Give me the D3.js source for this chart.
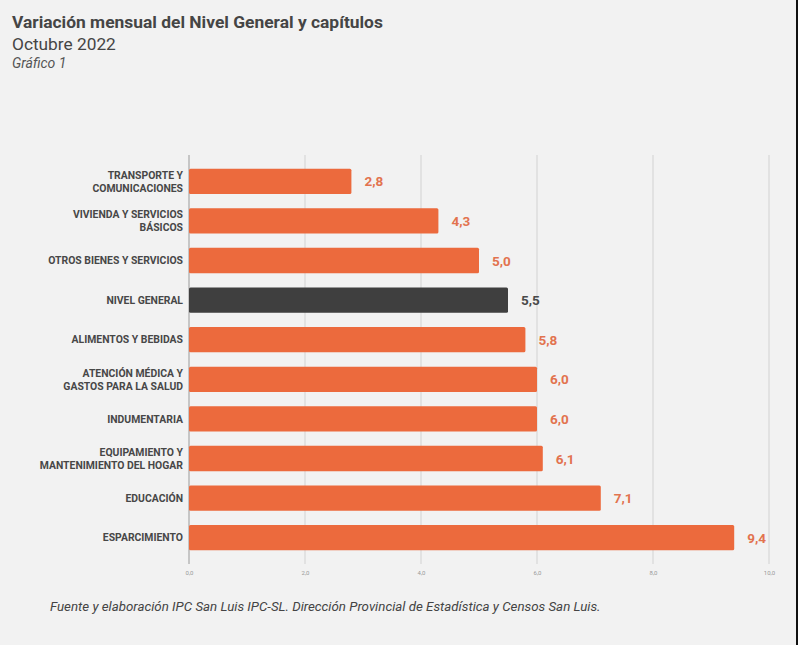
<!DOCTYPE html>
<html><head><meta charset="utf-8">
<script src="https://cdn.jsdelivr.net/npm/d3@7"></script>
<style>
html,body{margin:0;padding:0;background:#f2f2f2;}
svg{display:block;font-family:Roboto,"Noto Sans",sans-serif;}
</style></head>
<body>
<svg id="chart" width="798" height="645"></svg>
<script>
const categories = [
  ["TRANSPORTE Y","COMUNICACIONES"],
  ["VIVIENDA Y SERVICIOS","BÁSICOS"],
  ["OTROS BIENES Y SERVICIOS"],
  ["NIVEL GENERAL"],
  ["ALIMENTOS Y BEBIDAS"],
  ["ATENCIÓN MÉDICA Y","GASTOS PARA LA SALUD"],
  ["INDUMENTARIA"],
  ["EQUIPAMIENTO Y","MANTENIMIENTO DEL HOGAR"],
  ["EDUCACIÓN"],
  ["ESPARCIMIENTO"]
];
const values = [2.8, 4.3, 5.0, 5.5, 5.8, 6.0, 6.0, 6.1, 7.1, 9.4];
const highlight = ["NIVEL GENERAL"];
const tickValues = [0, 2, 4, 6, 8, 10];
const tickLabels = ["0,0","2,0","4,0","6,0","8,0","10,0"];

const svg = d3.select("#chart");
svg.append("rect").attr("width",798).attr("height",645).attr("fill","#f2f2f2");
svg.append("rect").attr("x",796).attr("y",0).attr("width",2).attr("height",645).attr("fill","#111");

// Titles
svg.append("text").attr("x",12).attr("y",28).attr("font-size",17.4).attr("font-weight",700)
  .attr("fill","#454545").text("Variación mensual del Nivel General y capítulos");
svg.append("text").attr("x",12).attr("y",50).attr("font-size",17.3)
  .attr("fill","#454545").text("Octubre 2022");
svg.append("text").attr("x",12).attr("y",68).attr("font-size",14).attr("font-style","italic")
  .attr("fill","#555").text("Gráfico 1");

const x = d3.scaleLinear().domain([0,10]).range([189,769]);
const y = d3.scaleBand().domain(d3.range(values.length)).range([161.5,557.5]).paddingInner(0.36).paddingOuter(0.18);

// grid
svg.append("g").selectAll("line").data(tickValues).join("line")
  .attr("x1",d=>x(d)).attr("x2",d=>x(d)).attr("y1",155).attr("y2",564)
  .attr("stroke",d=>d===0?"#9a9a9a":"#d2d2d2").attr("stroke-width",1);

// axis tick labels
const axis = d3.axisBottom(x).tickValues(tickValues).tickFormat((d,i)=>tickLabels[i]).tickSize(0);
const ax = svg.append("g").attr("transform","translate(0,568)").call(axis);
ax.select(".domain").remove();
ax.selectAll("text").attr("font-size",6).attr("fill","#999").attr("font-family","Roboto,sans-serif");

// bars
const isHi = i => highlight.includes(categories[i].join(" "));
svg.selectAll("rect.bar").data(values).join("rect")
  .attr("x",x(0)).attr("y",(d,i)=>y(i)).attr("width",d=>x(d)-x(0)).attr("height",y.bandwidth())
  .attr("rx",1.5)
  .attr("fill",(d,i)=>isHi(i)?"#3f3f3f":"#ec6a3d");

// value labels
svg.selectAll("text.val").data(values).join("text")
  .attr("x",d=>x(d)+13).attr("y",(d,i)=>y(i)+y.bandwidth()/2+5)
  .attr("font-size",13.5).attr("font-weight",700)
  .attr("fill",(d,i)=>isHi(i)?"#4a4a4a":"#e2734f")
  .text(d=>d.toFixed(1).replace(".",","));

// category labels
categories.forEach((lines,i)=>{
  const cy = y(i)+y.bandwidth()/2;
  const t = svg.append("text").attr("text-anchor","end").attr("font-size",10.4).attr("font-weight",700)
    .attr("fill","#474747");
  const n = lines.length;
  lines.forEach((l,j)=>{
    t.append("tspan").attr("x",183).attr("y",cy + 3.7 + (j-(n-1)/2)*13).text(l);
  });
});

// footer
svg.append("text").attr("x",50).attr("y",611).attr("font-size",13.3).attr("font-style","italic")
  .attr("fill","#444").text("Fuente y elaboración IPC San Luis IPC-SL. Dirección Provincial de Estadística y Censos San Luis.");
</script>
</body></html>
